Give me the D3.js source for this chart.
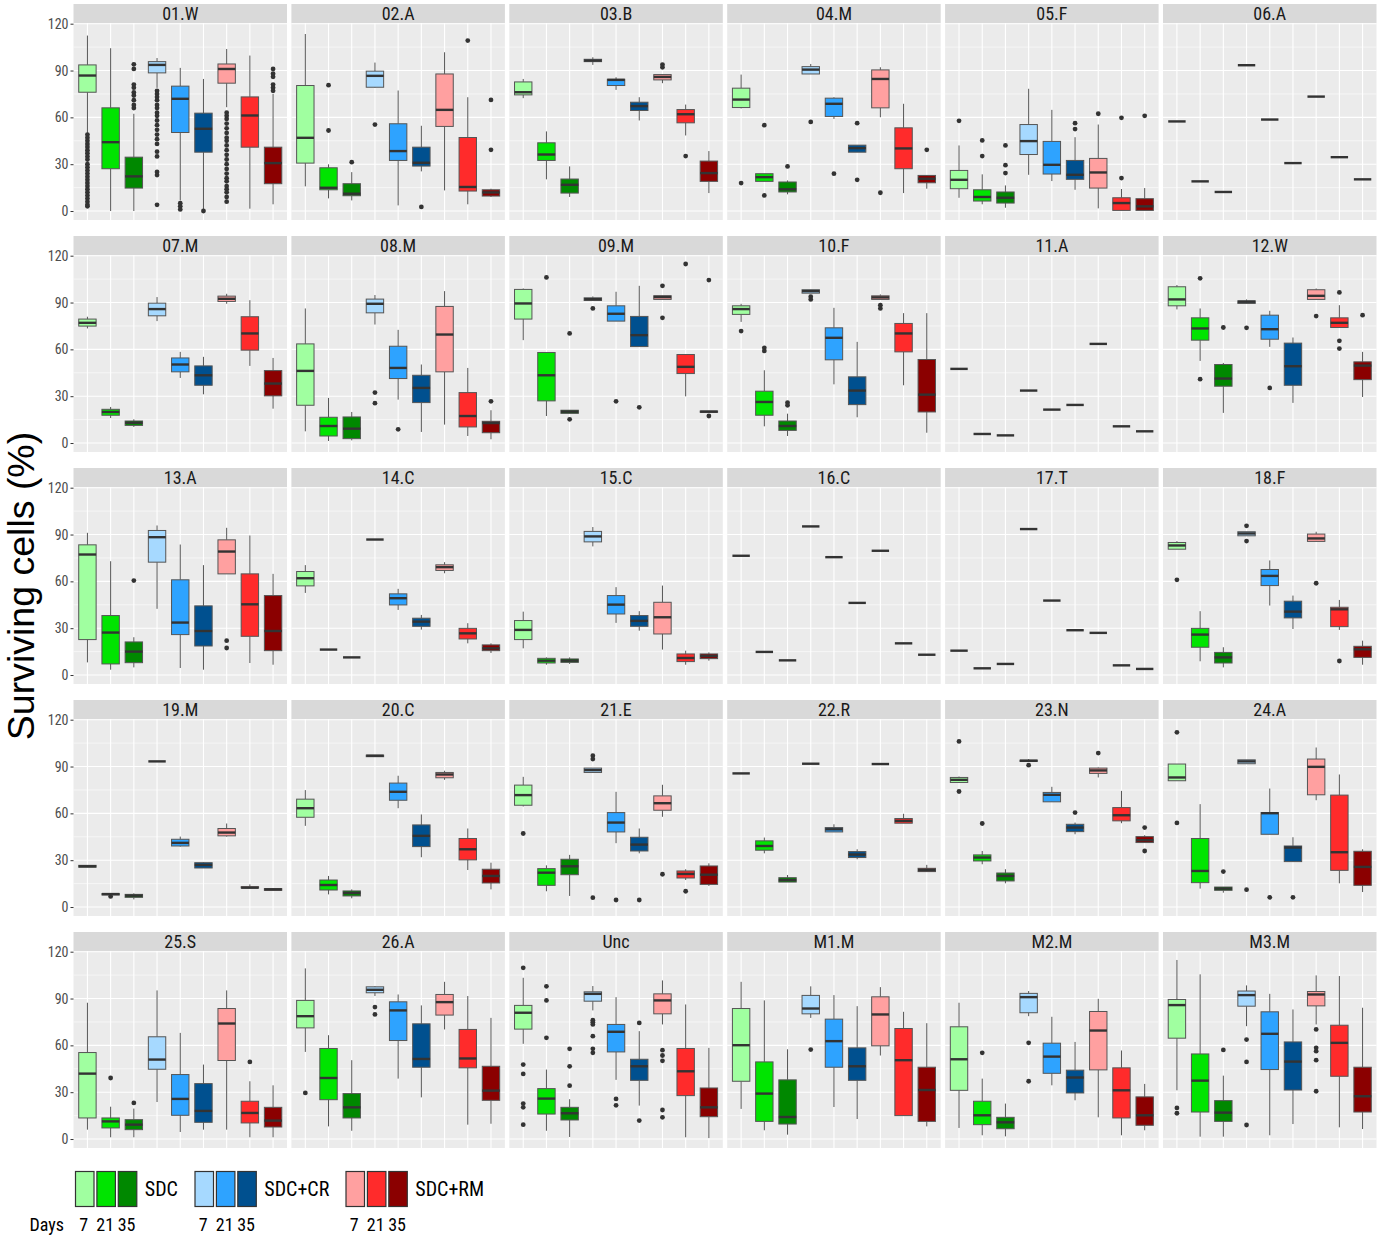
<!DOCTYPE html>
<html><head><meta charset="utf-8">
<script src="https://cdn.jsdelivr.net/npm/d3@7"></script>
<style>body{margin:0;background:#fff}</style>
</head><body>
<svg id="c" width="1387" height="1238"></svg>
<script>
// ---------------- data ----------------
const panelNames = ["01.W","02.A","03.B","04.M","05.F","06.A","07.M","08.M","09.M","10.F","11.A","12.W",
  "13.A","14.C","15.C","16.C","17.T","18.F","19.M","20.C","21.E","22.R","23.N","24.A",
  "25.S","26.A","Unc","M1.M","M2.M","M3.M"];
const groups = ["SDC","SDC+CR","SDC+RM"];
const days = ["7","21","35"];
const boxColors = ["#a0ffa0","#00e400","#008800","#a6d9ff","#2ea3ff","#00508f","#ffa0a0","#ff2b2b","#8b0000"];
const yTicks = [0,30,60,90,120];
const yMinor = [15,45,75,105];
// each box: [lower whisker, Q1, median, Q3, upper whisker, [outliers]]; a single number = one observation
const p01W = [
 [50,76.1,86.8,93.6,112.4,[49,47,45,43,41,39,37,35,33,30,28,26,24,22,20,18,16,14,12,10,8,6,4,3]],
 [0,27.1,44.1,66.1,104.3,[]],
 [0,14.7,22.2,34.5,62.3,[94,91,81,79,76,74,71,68,66]],
 [78.9,88.5,93.6,95.7,98,[77,75,73,71,68,66,63,61,58,55,52,49,46,43,38,35,25,23,4]],
 [6.8,50.3,71.9,80,91.7,[5,3,1]],
 [0.4,37.7,52.7,62.7,84.6,[0]],
 [66.5,81.9,91,94.2,103.8,[63,61,59,56,53,50,47,45,42,39,36,33,30,27,24,21,19,16,14,12,9,6]],
 [1.5,40.9,61.2,73.1,99.6,[]],
 [4.3,17.5,30.7,40.9,75,[91,88,86,81,79,77]]];
const p02A = [
 [15.8,30.7,46.9,80.4,113.4,[]],
 [8.1,13.6,14.9,27.7,29.9,[80.6,51.6]],
 [6.8,9.8,11.1,17.5,24.9,[31.3]],
 [78.9,79.3,86.6,89.6,95.1,[55.4]],
 [3.6,32.4,38.4,55.9,77.2,[]],
 [25.4,28.8,30.9,40.9,54.6,[2.6]],
 [13.2,54.2,64.8,87.8,101.7,[]],
 [4.3,12.8,15.4,47.1,72.9,[109.2]],
 [9,9.6,11.9,13.6,14.3,[71.2,39.2]]];
const p03B = [
 [72.3,74.4,76.1,82.7,84.6,[]],
 [20.3,32.4,36.2,43.7,51,[]],
 [9,11.5,16.8,20.5,28.6,[]],
 [93.6,95.7,96.4,97.2,98.5,[]],
 [77.6,80.4,84,84.4,85.7,[]],
 [58,64.4,67.2,69.7,72.9,[]],
 [81.9,84,85.9,87.4,87.4,[93.8,92.1]],
 [48.4,56.5,62,65,68.2,[35.2]],
 [11.5,19,24.3,32,38.4,[]]];
const p04M = [
 [65.7,66.3,71.4,78.7,87.4,[17.9]],
 [19,19,21.7,23.9,23.9,[55,10]],
 [10.7,12.2,13.9,18.6,19.6,[28.6]],
 [87.8,87.8,90.6,92.5,94.2,[57.1]],
 [59,60.6,68.7,72.3,72.9,[23.9]],
 [37.7,37.7,40.3,42.2,42.2,[56.3,20]],
 [60.1,66.1,84.6,90.4,92.1,[11.7]],
 [11.5,27.1,40.1,53.3,68.7,[]],
 [14.3,18.1,20.7,22.8,22.8,[39.2]]];
const p05F = [
 [8.5,14.3,20,26,42,[57.8]],
 [4.3,6.4,9,13.6,23.5,[45.2,35.2]],
 [2.1,5.1,8.5,12.2,16.4,[42,29.4,24.3]],
 [23.2,36.2,44.8,55.4,78.3,[]],
 [19.2,23.7,29.6,44.6,64.8,[]],
 [13.6,20.3,23.2,32.4,47.3,[56.3,52.5]],
 [1.7,14.7,24.7,33.7,55.4,[62.3]],
 [0.4,0.4,5.1,8.5,14.1,[59.7,21.1]],
 [0.4,0.4,3,7.9,14.7,[61]]];
const p06A = [57.4,19,12.2,93.4,58.6,30.7,73.3,34.5,20.3];
const p07M = [
 [73.4,74.9,77,79.4,80.9,[]],
 [16,17.8,19.9,21.6,23.1,[]],
 [10.3,11.3,13,14.1,15.2,[]],
 [78.1,81.5,85.8,89.6,93.5,[]],
 [41.7,45.6,50.3,54.5,58.4,[]],
 [31.2,37,43.4,49.4,55.2,[]],
 [89.2,90.7,92.4,94.1,95.6,[]],
 [49.4,59.5,70.2,80.9,91.5,[]],
 [22,30.2,38.1,46.4,54.5,[]]];
const p08M = [
 [7.5,24.2,46.2,63.5,86.2,[]],
 [1.3,4.5,10.9,16.5,28.9,[]],
 [1.7,2.8,9.2,16.7,19.9,[]],
 [75.9,83.4,89.2,92.2,94.8,[32.3,25.5]],
 [27.8,41.3,48.1,62,72.5,[8.8]],
 [7.1,25.9,35.3,43.4,50.3,[]],
 [11.8,45.6,69.5,87.5,97.3,[]],
 [4.5,10.3,17.3,32.3,48.1,[]],
 [2.4,6.6,12.8,13.9,21,[26.7]]];
const p09M = [
 [65.9,79.4,89.4,98.4,99,[]],
 [17.3,27,43.4,58,58,[106.1]],
 [19,19,20.1,21,21,[70.2,15.2]],
 [91.3,91.3,92.2,93,93.9,[86.2]],
 [78.1,78.1,82.8,87.9,96.9,[26.7]],
 [61.8,61.8,69.1,81.1,100.7,[22.9]],
 [92,92,93.5,94.4,94.4,[100.7,80.2]],
 [29.9,44.5,48.8,56.7,56.7,[114.7]],
 [19.7,19.7,20.1,20.5,20.5,[104.4,17.3]]];
const p10F = [
 [77.6,82.4,85.8,87.9,89.2,[71.7]],
 [10.7,17.8,26.3,33.2,46.6,[61,59]],
 [4.5,8.1,10.9,14.1,18.8,[25.9,24.2]],
 [96,96,97.3,98.2,98.2,[93.7,92]],
 [37.6,53.3,67.4,73.8,86.6,[]],
 [16.5,24.6,33.6,42.4,64.8,[]],
 [92,92,93.3,94.3,95.2,[88.3,86.2]],
 [37,58.4,70.2,76.6,83.2,[]],
 [6.6,19.9,31,53.5,83.2,[]]];
const p11A = [47.5,5.8,4.9,33.6,21.4,24.4,63.5,10.7,7.5];
const p12W = [
 [85.6,87.9,92,100.1,101.2,[]],
 [52.6,65.9,73.4,80.2,86.2,[105.5,40.9]],
 [19.3,36.4,41.3,50.3,51.3,[74]],
 [89.4,89.4,90.5,91.1,92,[73.8]],
 [61.6,66.5,72.9,81.9,84.7,[35.3]],
 [25.7,37,49.2,64,67.6,[]],
 [92,92,94.3,98.2,99,[81.3]],
 [74,74,77,80.2,88.3,[96.5,65.5,60.5]],
 [29.5,40.6,49.6,52,58.4,[81.9]]];
const p13A = [
 [8.1,22.7,77.2,83.4,91.1,[]],
 [3.4,7.1,27.2,38.1,72.9,[]],
 [4.9,7.9,15,21.2,24.2,[60.5]],
 [42.4,72.3,88.3,92.6,95.8,[]],
 [4.5,25.9,33.6,61,83.6,[]],
 [3.4,18.6,28.2,44.3,70.4,[]],
 [64.8,64.8,79.1,86.6,94.3,[22,17.3]],
 [7.7,24.8,45.3,64.8,89.4,[]],
 [6.6,15.6,28.2,50.9,64.8,[]]];
const p14C = [
 [52.6,57.1,62,66.3,70.4,[]],
 16.3, 11.3, 86.8,
 [41.7,44.9,49.2,52,55.2,[]],
 [29.1,31.2,34.2,36.4,38.5,[]],
 [65.2,67,69.1,70.6,72.3,[]],
 [20.3,23.1,26.7,29.9,33.2,[]],
 [14.1,15.6,17.1,19.3,20.3,[]]];
const p15C = [
 [17.1,22.7,28.9,34.9,40.6,[]],
 [6.6,7.7,9.2,10.7,11.3,[]],
 [7.1,8.1,9.2,10.3,11.3,[]],
 [82.4,85.3,88.8,92,94.8,[]],
 [33.4,39.1,45.1,50.9,56.3,[]],
 [28.4,31.2,34.7,38.1,40.9,[]],
 [16.3,26.3,37,46.6,57.3,[]],
 [6.6,8.6,10.9,13.5,15.6,[]],
 [9.2,10.5,12.2,13.5,14.5,[]]];
const p16C = [76.4,14.8,9.4,95.2,75.5,46.2,79.6,20.3,13];
const p17T = [15.6,4.3,7.1,93.5,47.7,28.7,27,6.2,3.9];
const p18F = [
 [80.6,80.6,83,84.9,85.8,[61]],
 [8.8,17.8,25.9,29.9,40.9,[]],
 [4.9,7.7,11.3,14.5,17.8,[]],
 [89.2,89.2,90.7,91.8,91.8,[95.6,85.8]],
 [44.5,57.3,63.5,67.6,73.4,[]],
 [29.5,36.6,40.6,47.3,50.9,[]],
 [85.6,85.6,87.5,90.3,91.8,[58.8]],
 [28.9,31,42.1,43.4,48.1,[9]],
 [6.6,11.3,16.5,18.4,22,[]]];
const p19M = [
 [25.5,25.5,26.1,26.7,26.7,[]],
 [7.7,7.7,8.3,8.6,8.6,[6.8]],
 [4.9,6.2,7.3,8.1,8.8,[]],
 93.3,
 [38.7,39.1,41.1,43.4,45.1,[]],
 [25,25,27,28.4,28.9,[]],
 [45.1,45.6,47.7,50.3,53.5,[]],
 [12.2,12.2,12.4,13,14.5,[]],
 [10.7,10.7,11.3,11.8,11.8,[]]];
const p20C = [
 [52,57.5,63.3,69.1,74.9,[]],
 [8.1,10.9,14.1,17.3,19.9,[]],
 [5.6,7.1,9,10.3,11.3,[]],
 [96.3,96.3,96.9,97.3,97.3,[]],
 [63.3,68.4,73.8,79.4,84.1,[]],
 [31.9,38.7,45.6,52.6,59.3,[]],
 [81.5,82.8,84.9,86.2,87.3,[]],
 [23.7,30.2,37,43.9,50.3,[]],
 [11.3,15.4,19.9,24.2,28.4,[]]];
const p21E = [
 [64.4,65.2,71.7,78.1,83.4,[47.1]],
 [10.1,13.9,22,24.6,26.7,[]],
 [7.1,20.7,26.1,30.6,33.4,[]],
 [86.2,86.2,87.7,89,89,[96.9,94.8,6]],
 [40.9,48.1,54.1,60.5,73.8,[4.5]],
 [34.4,35.9,40,44.7,50.3,[4.5]],
 [57.8,62,66.5,71.2,78.3,[21]],
 [17.3,18.6,21.2,23.1,24.2,[10.1]],
 [13.5,14.5,20.7,26.3,28,[]]];
const p22R = [
 85.6,
 [34.4,36.4,39.1,42.4,44.5,[]],
 [16,16,17.3,18.8,20.5,[]],
 91.8,
 [48.1,48.1,49.8,50.9,53,[]],
 [30.6,31.7,33.6,35.5,37,[]],
 91.6,
 [53.7,53.7,55.2,56.7,59.7,[]],
 [22.7,22.7,23.7,24.8,27,[]]];
const p23N = [
 [79.8,79.8,81.5,83,83.6,[106.1,74]],
 [27.4,29.5,31.7,33.4,35.9,[53.5]],
 [15.2,16.7,19.9,21.8,24.2,[]],
 [93.3,93.3,93.7,94.1,94.8,[90.9]],
 [67.4,67.4,71.9,73.4,77,[]],
 [46.6,48.3,50.9,53,54.1,[60.5]],
 [83,85.6,87.5,89,89.4,[98.6]],
 [53.7,55.2,58.8,63.7,74.4,[]],
 [41.3,41.3,42.8,45.1,46,[50.9,35.9]]];
const p24A = [
 [80.9,80.9,83,91.6,91.6,[111.9,53.9]],
 [11.8,15.6,23.1,43.9,65.9,[]],
 [9.2,10.7,11.8,12.8,12.8,[22.7]],
 [91.8,91.8,93.3,94.3,94.3,[11.1]],
 [46.6,46.6,60.1,60.5,75.9,[6.2]],
 [29.1,29.1,38.1,39.1,44.7,[6.2]],
 [68.4,71.9,89.8,94.8,102.2,[]],
 [15.2,23.5,35.1,71.7,84.9,[]],
 [9.6,13.9,25.7,35.7,37,[]]];
const p25S = [
 [6,13.5,41.9,55.4,87.3,[]],
 [1.1,7.1,11.3,13.5,20.7,[39.1]],
 [1.1,6,9.2,12.4,19.5,[23.1]],
 [23.7,44.7,50.9,65.5,95.2,[]],
 [4.5,15.2,25.7,41.3,68,[]],
 [6,10.7,18,35.5,47.7,[]],
 [6,50.3,74,83.6,95.2,[]],
 [1.1,10.3,16.7,24.2,37,[49.4]],
 [1.1,7.7,11.8,20.3,34.4,[]]];
const p26A = [
 [55.8,71.2,78.7,88.8,109.3,[29.5]],
 [8.1,25.2,39.1,58,66.5,[]],
 [5.3,13.5,20.3,29.1,50.5,[]],
 [91.6,93.7,95.6,97.5,98,[84.5,79.8]],
 [38.7,63.1,82.4,87.9,92.6,[]],
 [26.7,46,51.3,73.8,85.6,[]],
 [70.2,79.4,87.7,92.6,100.7,[]],
 [9.2,45.6,51.6,70.2,91.6,[]],
 [9.8,24.8,31,46.6,77.6,[]]];
const pUnc = [
 [61,70.4,80.9,85.6,103.3,[109.7,47.7,41.7,22.7,20.3,9.2]],
 [5.3,16,25.9,32.3,44.5,[97.8,88.8,64.8]],
 [1.3,12.2,16.5,20.3,25.5,[57.8,46.6,34.2]],
 [82.4,88.3,93,94.3,98,[76.1,74.8,73.4,65.9,57.8,55.2]],
 [37.9,55.8,68.7,73.4,90.9,[25.7,21.6]],
 [21.4,37.6,46.6,51.1,69.1,[74.4,11.8]],
 [73.4,80.2,88.8,93,101.6,[56.9,53.5,50.1,18.6,13.9]],
 [1.1,27.8,43.4,58,86.2,[]],
 [0.6,14.3,20.3,32.7,58.4,[]]];
const pM1M = [
 [19.3,37,60.1,83.6,100.7,[]],
 [5.6,11.3,29.1,49.4,88.8,[]],
 [2.8,9.6,14.1,37.9,57.5,[]],
 [77.6,80.2,83.6,92,97.8,[57.3]],
 [20.5,46,62.7,76.8,92.2,[]],
 [12.8,37.6,46.6,58.4,85.1,[]],
 [53.5,59.7,79.8,91.1,97.3,[]],
 [15,15,50.5,70.8,81.5,[]],
 [8.1,11.3,31.4,46,74.2,[]]];
const pM2M = [
 [7.1,31.2,51.1,71.9,87.3,[]],
 [2.4,9.2,15.2,24.2,38.7,[55.2]],
 [1.7,6.6,10.7,13.9,22.7,[]],
 [78.7,80.9,90.9,93.3,94.8,[61.6,37]],
 [34.4,42.1,52.8,61.4,78.3,[]],
 [24.8,29.5,39.4,44.1,62.2,[]],
 [13.9,44.3,69.5,81.7,89.8,[]],
 [2.4,13.5,31.2,45.6,56.7,[]],
 [5.6,8.8,15.2,27,35.3,[]]];
const pM3M = [
 [31.2,64.6,85.8,89.4,114.7,[19.9,16.5]],
 [1.5,17.3,37.4,54.5,105.5,[]],
 [1.5,11.3,16.9,24.6,40.6,[57.1]],
 [72.3,85.1,92.2,94.8,98.4,[63.7,49.4,9]],
 [2.4,44.5,67.4,81.5,93,[]],
 [9.6,31.4,49.6,62.2,83,[]],
 [73.4,85.3,92.6,94.5,104.8,[70.2,58.4,56.3,50.5,30.6]],
 [7.5,40.2,61.6,72.9,104.4,[]],
 [6.4,17.3,27.4,46,84.1,[]]];
const panelData = [p01W,p02A,p03B,p04M,p05F,p06A,p07M,p08M,p09M,p10F,p11A,p12W,
  p13A,p14C,p15C,p16C,p17T,p18F,p19M,p20C,p21E,p22R,p23N,p24A,p25S,p26A,pUnc,pM1M,pM2M,pM3M];

// ---------------- drawing ----------------
const svg = d3.select("#c");
svg.append("rect").attr("width",1387).attr("height",1238).attr("fill","#fff");
const narrow = "'Liberation Sans Narrow','Arial Narrow','Roboto Condensed','Liberation Sans',Arial,sans-serif";
const W = 213.5, H = 197, colStep = 217.9, rowStep = 232, left0 = 73.5, top0 = 23, stripH = 19;
const x = d3.scalePoint().domain(d3.range(9)).range([0, W]).padding(0.6);
const bw = x.step() * 0.75;
const y = d3.scaleLinear().domain([-5.75, 120.45]).range([H, 0]);
const toBox = d => (typeof d === "number") ? [d,d,d,d,d,[]] : d;

panelNames.forEach((name, i) => {
  const c = i % 6, r = Math.floor(i / 6);
  const g = svg.append("g").attr("transform", `translate(${left0 + c*colStep},${top0 + r*rowStep})`);
  g.append("rect").attr("width", W).attr("height", H).attr("fill", "#ebebeb");
  g.selectAll(".mn").data(yMinor).join("line")
    .attr("x1",0).attr("x2",W).attr("y1",d=>y(d)).attr("y2",d=>y(d))
    .attr("stroke","#fff").attr("stroke-width",0.55);
  g.selectAll(".mj").data(yTicks).join("line")
    .attr("x1",0).attr("x2",W).attr("y1",d=>y(d)).attr("y2",d=>y(d))
    .attr("stroke","#fff").attr("stroke-width",1.1);
  g.selectAll(".vx").data(d3.range(9)).join("line")
    .attr("x1",d=>x(d)).attr("x2",d=>x(d)).attr("y1",0).attr("y2",H)
    .attr("stroke","#fff").attr("stroke-width",1.1);
  // strip
  g.append("rect").attr("y",-stripH).attr("width",W).attr("height",stripH).attr("fill","#d9d9d9");
  g.append("text").attr("x",W/2).attr("y",-stripH/2).attr("dy","0.36em")
    .attr("text-anchor","middle").attr("font-family",narrow).attr("font-size",18)
    .attr("fill","#1a1a1a").text(name);
  // boxes
  panelData[i].map(toBox).forEach((b, k) => {
    const [lo,q1,med,q3,hi,out] = b;
    const cx = x(k);
    const bg = g.append("g");
    bg.append("line").attr("x1",cx).attr("x2",cx).attr("y1",y(q3)).attr("y2",y(hi))
      .attr("stroke","#555").attr("stroke-width",1);
    bg.append("line").attr("x1",cx).attr("x2",cx).attr("y1",y(q1)).attr("y2",y(lo))
      .attr("stroke","#555").attr("stroke-width",1);
    bg.append("rect").attr("x",cx-bw/2).attr("y",y(q3)).attr("width",bw)
      .attr("height",Math.max(0,y(q1)-y(q3))).attr("fill",boxColors[k])
      .attr("stroke","#555").attr("stroke-width",1);
    bg.append("line").attr("x1",cx-bw/2).attr("x2",cx+bw/2).attr("y1",y(med)).attr("y2",y(med))
      .attr("stroke","#333").attr("stroke-width",2.4);
    bg.selectAll("circle").data(out).join("circle")
      .attr("cx",cx).attr("cy",d=>y(d)).attr("r",2.4).attr("fill","#333");
  });
  if (c === 0) {
    const ax = g.append("g").call(d3.axisLeft(y).tickValues(yTicks).tickSize(3).tickPadding(2));
    ax.select(".domain").remove();
    ax.selectAll(".tick line").attr("stroke","#333");
    ax.selectAll(".tick text").attr("fill","#4d4d4d").attr("font-size",14).attr("font-family",narrow);
  }
});

// y title
svg.append("text").attr("transform","translate(34,586) rotate(-90)")
  .attr("text-anchor","middle").attr("font-family","'Liberation Sans',Arial,sans-serif")
  .attr("font-size",37.5).attr("fill","#000").text("Surviving cells (%)");

// legend
const groupX = [75.5, 195, 346];
const keyW = 18.5, keyGap = 21.4, keyY = 1171.5, keyH = 35;
groups.forEach((gname, gi) => {
  days.forEach((dname, di) => {
    const kx = groupX[gi] + di*keyGap;
    svg.append("rect").attr("x",kx).attr("y",keyY).attr("width",keyW).attr("height",keyH)
      .attr("fill",boxColors[gi*3+di]).attr("stroke","#333").attr("stroke-width",1.2);
    svg.append("text").attr("x",kx+keyW/2 - 1).attr("y",1225).attr("dy","0.36em")
      .attr("text-anchor","middle").attr("font-family",narrow).attr("font-size",18)
      .attr("fill","#000").text(dname);
  });
  svg.append("text").attr("x",groupX[gi] + 2*keyGap + keyW + 8).attr("y",keyY+keyH/2).attr("dy","0.36em")
    .attr("font-family",narrow).attr("font-size",20).attr("fill","#000").text(gname);
});
svg.append("text").attr("x",64).attr("y",1225).attr("dy","0.36em").attr("text-anchor","end")
  .attr("font-family",narrow).attr("font-size",18).attr("fill","#000").text("Days");
</script>
</body></html>
